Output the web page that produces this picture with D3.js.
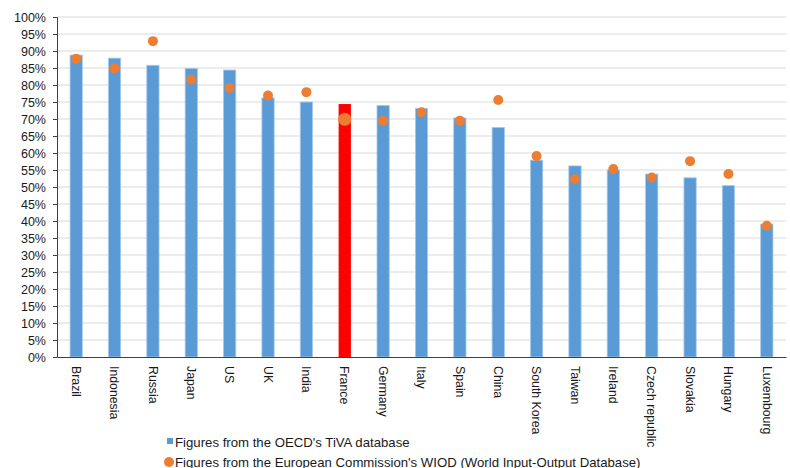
<!DOCTYPE html>
<html>
<head>
<meta charset="utf-8">
<script src="https://cdn.jsdelivr.net/npm/d3@7"></script>
<style>
  html, body { margin: 0; padding: 0; background: #fff; }
  svg { display: block; font-family: "Liberation Sans", Arial, sans-serif; }
</style>
</head>
<body>
<svg id="chart" width="790" height="468"></svg>
<script>
// Domestic value-added share of exports by country
const countries = ["Brazil", "Indonesia", "Russia", "Japan", "US", "UK", "India", "France",
  "Germany", "Italy", "Spain", "China", "South Korea", "Taiwan", "Ireland",
  "Czech republic", "Slovakia", "Hungary", "Luxembourg"];
const tivaValues = [88.8, 87.9, 85.8, 84.9, 84.4, 76.2, 75.0, 74.4, 74.0, 73.1, 70.3, 67.5,
  57.9, 56.2, 55.0, 53.8, 52.7, 50.4, 39.1];
const wiodValues = [87.7, 84.9, 92.9, 81.6, 79.1, 76.9, 77.9, 69.9, 69.5, 72.0, 69.5, 75.6,
  59.1, 52.3, 55.3, 52.8, 57.6, 53.8, 38.6];
const yTicks = [0, 5, 10, 15, 20, 25, 30, 35, 40, 45, 50, 55, 60, 65, 70, 75, 80, 85, 90, 95, 100];
const highlight = "France";
const legendLabels = ["Figures from the OECD's TiVA database",
  "Figures from the European Commission's WIOD (World Input-Output Database)"];

const svg = d3.select("#chart");
const plotLeft = 57, plotRight = 786, plotTop = 17, plotBottom = 357;

const x = d3.scaleBand().domain(countries).range([plotLeft, plotRight]).paddingInner(0.68).paddingOuter(0.34);
const y = d3.scaleLinear().domain([0, 100]).range([plotBottom, plotTop]);

// horizontal gridlines
svg.append("g").selectAll("line").data(yTicks.filter(t => t > 0)).join("line")
  .attr("x1", plotLeft).attr("x2", plotRight)
  .attr("y1", d => y(d)).attr("y2", d => y(d))
  .attr("stroke", "#d9d9d9").attr("stroke-width", 1);

// y axis
const yAxis = svg.append("g").attr("transform", `translate(${plotLeft},0)`)
  .call(d3.axisLeft(y).tickValues(yTicks).tickFormat(d => d + "%").tickSize(4).tickPadding(7));
yAxis.select(".domain").attr("stroke", "#404040");
yAxis.selectAll(".tick line").attr("stroke", "#404040");
yAxis.selectAll("text").attr("font-size", 12.5).attr("fill", "#1a1a1a")
  .attr("font-family", "Liberation Sans, Arial, sans-serif");

// bars
svg.append("g").selectAll("rect").data(countries).join("rect")
  .attr("x", d => x(d))
  .attr("width", x.bandwidth())
  .attr("y", (d, i) => y(tivaValues[i]))
  .attr("height", (d, i) => y(0) - y(tivaValues[i]))
  .attr("fill", d => d === highlight ? "#ff0000" : "#5b9bd5")
  .attr("stroke", d => d === highlight ? "none" : "#a9c9ea")
  .attr("stroke-width", 0.8);

// x axis
const xAxis = svg.append("g").attr("transform", `translate(0,${plotBottom})`)
  .call(d3.axisBottom(x).tickSize(0).tickPadding(0));
xAxis.select(".domain").attr("stroke", "#404040").attr("stroke-width", 1.2);
xAxis.selectAll("text")
  .attr("font-size", 12.3).attr("fill", "#1a1a1a")
  .attr("font-family", "Liberation Sans, Arial, sans-serif")
  .attr("text-anchor", "start")
  .attr("y", 0)
  .attr("dy", "0.35em")
  .attr("transform", "translate(0,9) rotate(90)");

// WIOD points
svg.append("g").selectAll("circle").data(countries).join("circle")
  .attr("cx", d => x(d) + x.bandwidth() / 2)
  .attr("cy", (d, i) => y(wiodValues[i]))
  .attr("r", d => d === highlight ? 6.5 : 5)
  .attr("fill", "#ed7d31");

// legend
const lg = svg.append("g");
lg.append("rect").attr("x", 167).attr("y", 438).attr("width", 6).attr("height", 6).attr("fill", "#5b9bd5");
lg.append("text").attr("x", 175).attr("y", 446.5).attr("font-size", 13.2).attr("fill", "#1a1a1a")
  .text(legendLabels[0]);
lg.append("circle").attr("cx", 169).attr("cy", 462).attr("r", 5).attr("fill", "#ed7d31");
lg.append("text").attr("x", 175).attr("y", 466.5).attr("font-size", 13.2).attr("fill", "#1a1a1a")
  .text(legendLabels[1]);
</script>
</body>
</html>
